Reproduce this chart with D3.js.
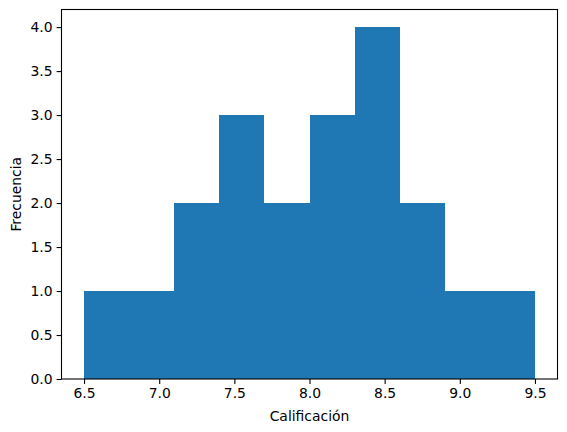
<!DOCTYPE html>
<html>
<head>
<meta charset="utf-8">
<script src="https://cdn.jsdelivr.net/npm/d3@7"></script>
<style>
  body { margin: 0; background: #fff; }
  svg text { font-family: "DejaVu Sans", sans-serif; fill: #000; }
</style>
</head>
<body>
<div class="chart"></div>
<script>
// histogram bins (edges) and counts
const binEdges = [6.5, 6.8, 7.1, 7.4, 7.7, 8.0, 8.3, 8.6, 8.9, 9.2, 9.5];
const counts = [1, 1, 2, 3, 2, 3, 4, 2, 1, 1];
const xTicks = [6.5, 7.0, 7.5, 8.0, 8.5, 9.0, 9.5];
const yTicks = [0, 0.5, 1.0, 1.5, 2.0, 2.5, 3.0, 3.5, 4.0];

const width = 567, height = 432;
const mLeft = 61.5, mRight = 557.5, mTop = 9.5, mBottom = 379;

var svg = d3.select(".chart")
  .append("svg")
  .attr("width", width)
  .attr("height", height);

var x = d3.scaleLinear().domain([6.35, 9.65]).range([mLeft, mRight]);
var y = d3.scaleLinear().domain([0, 4.2]).range([mBottom, mTop]);

var bins = counts.map((c, i) => ({x0: binEdges[i], x1: binEdges[i + 1], n: c}));

// bars; crispEdges so neighbouring bins don't show a seam
svg.append("g")
  .attr("shape-rendering", "crispEdges")
  .selectAll("rect")
  .data(bins)
  .enter().append("rect")
  .attr("x", d => Math.round(x(d.x0)))
  .attr("width", d => Math.round(x(d.x1)) - Math.round(x(d.x0)))
  .attr("y", d => Math.round(y(d.n)))
  .attr("height", d => Math.round(y(0)) - Math.round(y(d.n)))
  .attr("fill", "#1f77b4");

// axes
var xAxis = d3.axisBottom(x).tickValues(xTicks).tickFormat(d3.format(".1f"))
  .tickSizeOuter(0).tickSizeInner(4.9).tickPadding(4);
var yAxis = d3.axisLeft(y).tickValues(yTicks).tickFormat(d3.format(".1f"))
  .tickSizeOuter(0).tickSizeInner(4.9).tickPadding(4);

svg.append("g")
  .attr("transform", "translate(0," + mBottom + ")")
  .call(xAxis)
  .call(g => g.select(".domain").remove())
  .call(g => g.selectAll("line").attr("stroke-width", 1.1))
  .call(g => g.selectAll("text").style("font-size", "13.9px").attr("fill", "#000"));

svg.append("g")
  .attr("transform", "translate(" + mLeft + ",0)")
  .call(yAxis)
  .call(g => g.select(".domain").remove())
  .call(g => g.selectAll("line").attr("stroke-width", 1.1))
  .call(g => g.selectAll("text").style("font-size", "13.9px").attr("fill", "#000"));

// frame
svg.append("rect")
  .attr("x", mLeft).attr("y", mTop)
  .attr("width", mRight - mLeft).attr("height", mBottom - mTop)
  .attr("fill", "none")
  .attr("stroke", "#000")
  .attr("stroke-width", 1.1);

// labels
svg.append("text")
  .attr("x", (mLeft + mRight) / 2)
  .attr("y", 421)
  .attr("text-anchor", "middle")
  .style("font-size", "13.9px")
  .text("Calificación");

svg.append("text")
  .attr("transform", "translate(21," + (mTop + mBottom) / 2 + ") rotate(-90)")
  .attr("text-anchor", "middle")
  .style("font-size", "13.9px")
  .text("Frecuencia");
</script>
</body>
</html>
